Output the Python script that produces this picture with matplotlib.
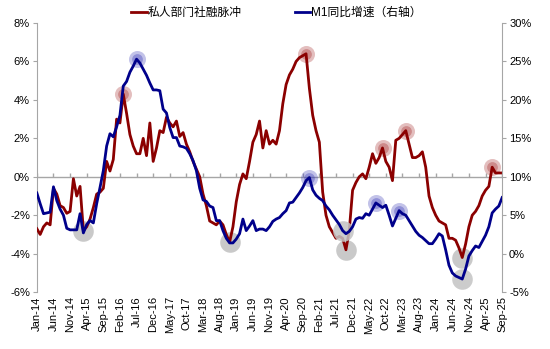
import matplotlib
matplotlib.use("Agg")
import matplotlib.pyplot as plt
from matplotlib.ticker import FuncFormatter

plt.rcParams["font.family"] = ["Liberation Sans", "Noto Sans CJK SC", "DejaVu Sans"]

# monthly observations, Jan-14 .. Sep-25 (index = months since Jan-14)
pulse = [
    -2.7, -3.0, -2.6, -2.4, -2.5, -0.6, -0.9, -1.5, -1.6, -1.9,
    -1.8, -0.1, -1.0, -0.5, -2.8, -2.6, -2.2, -1.6, -0.9, -0.8,
    -0.6, 0.8, 0.3, 0.9, 3.0, 2.8, 4.3, 3.3, 2.2, 1.6,
    1.2, 1.2, 2.0, 1.1, 2.8, 0.8, 1.5, 2.4, 2.3, 3.1,
    2.8, 2.6, 2.9, 2.1, 2.3, 1.7, 1.3, 0.8, 0.4, 0.0,
    -0.9, -1.5, -2.3, -2.4, -2.5, -2.3, -2.5, -3.0, -3.4, -2.6,
    -1.3, -0.4, 0.15, -0.1, 0.8, 1.8, 2.2, 2.9, 1.5, 2.4,
    1.7, 1.9, 1.7, 2.4, 3.8, 4.8, 5.3, 5.6, 6.0, 6.2,
    6.3, 6.4, 4.6, 3.2, 2.4, 1.8, -0.8, -2.0, -2.6, -2.9,
    -3.2, -3.1, -3.2, -3.8, -2.8, -0.7, -0.3, 0.0, 0.15, -0.1,
    0.5, 1.2, 0.7, 1.0, 1.5, 0.8, 0.5, -0.2, 1.9, 2.0,
    2.2, 2.4, 1.7, 1.0, 1.0, 1.1, 1.3, 0.5, -1.0, -1.6,
    -2.0, -2.3, -2.4, -2.5, -3.2, -3.2, -3.3, -3.7, -4.2, -3.5,
    -2.6, -2.0, -1.8, -1.5, -1.0, -0.7, -0.5, 0.5, 0.2, 0.2,
    0.2,
]
m1_yoy = [
    7.9, 6.5, 5.2, 5.3, 5.4, 8.7, 6.9, 5.8, 5.0, 3.3,
    3.1, 3.1, 3.1, 5.2, 2.7, 3.8, 4.3, 4.0, 6.5, 8.6,
    10.8, 14.0, 15.6, 15.2, 16.5, 18.0, 21.8, 22.4, 23.6, 24.4,
    25.3, 24.8, 24.0, 23.2, 22.2, 21.3, 21.3, 21.2, 18.8, 18.3,
    16.4, 15.1, 15.1, 14.0, 13.9, 13.7, 13.0, 12.1, 10.8, 8.5,
    7.0, 6.8, 6.2, 6.0, 4.3, 4.3, 3.0, 2.0, 1.4, 1.4,
    1.9, 2.6, 4.5, 3.0, 3.6, 4.3, 3.0, 3.2, 3.2, 3.0,
    3.5, 4.2, 4.5, 4.7, 5.2, 5.6, 6.6, 6.7, 7.3, 7.9,
    8.6, 9.5, 9.9, 8.3, 7.6, 7.2, 6.9, 6.2, 5.7, 5.0,
    4.4, 3.8, 3.0, 2.6, 2.9, 3.5, 4.5, 4.7, 4.6, 5.2,
    5.0, 5.8, 6.6, 6.3, 6.0, 6.3, 5.0, 3.6, 4.6, 5.6,
    5.2, 5.0, 4.3, 3.6, 2.9, 2.4, 2.1, 1.7, 1.3, 1.3,
    1.9, 2.6, 2.3, 0.5, -1.5, -2.5, -2.9, -3.1, -3.3, -2.0,
    -0.3, 0.4, 1.0, 0.8, 1.6, 2.4, 3.5, 5.3, 5.8, 6.2,
    7.3,
]
months = list(range(len(pulse)))

tick_labels = [
    "Jan-14", "Jun-14", "Nov-14", "Apr-15", "Sep-15", "Feb-16", "Jul-16",
    "Dec-16", "May-17", "Oct-17", "Mar-18", "Aug-18", "Jan-19", "Jun-19",
    "Nov-19", "Apr-20", "Sep-20", "Feb-21", "Jul-21", "Dec-21", "May-22",
    "Oct-22", "Mar-23", "Aug-23", "Jan-24", "Jun-24", "Nov-24", "Apr-25",
    "Sep-25",
]
tick_pos = list(range(0, len(pulse), 5))

# turning points marked with halos
pulse_peaks = [26, 81, 104, 111, 137]
pulse_troughs = [14, 58, 93, 128]
m1_peaks = [30, 82, 102, 109]
m1_troughs = [92, 128]

RED = "#8b0000"
BLUE = "#00008b"
GREY = "#a6a6a6"

fig = plt.figure(figsize=(5.5, 3.49), dpi=100)
ax = fig.add_axes([0.067, 0.163, 0.846, 0.771])
ax2 = ax.twinx()

ax.plot(months, pulse, color=RED, lw=2, zorder=3, label="私人部门社融脉冲")
ax2.plot(months, m1_yoy, color=BLUE, lw=2, zorder=3, label="M1同比增速（右轴）")


def halo(axis, idx, series, color):
    ys = [series[i] for i in idx]
    axis.scatter(idx, ys, s=150, color=color, alpha=0.3, lw=0, zorder=2)
    axis.scatter(idx, ys, s=60, color=color, alpha=0.35, lw=0, zorder=2)


halo(ax, pulse_peaks, pulse, "#a52a2a")
halo(ax2, m1_peaks, m1_yoy, "#3535b5")
ax.scatter(pulse_troughs, [pulse[i] for i in pulse_troughs], s=220,
           color="#c4c4c4", alpha=0.9, lw=0, zorder=2)
ax2.scatter(m1_troughs, [m1_yoy[i] for i in m1_troughs], s=220,
            color="#c4c4c4", alpha=0.85, lw=0, zorder=2)

# axis line at zero with small upward ticks
ax.axhline(0, color=GREY, lw=1, zorder=1)
ax.plot(tick_pos, [0] * len(tick_pos), ls="none", marker=2, ms=3,
        mew=1, color=GREY, zorder=1)

ax.set_xlim(0, len(pulse) - 1)
ax.set_ylim(-6, 8)
ax2.set_ylim(-5, 30)
ax.set_yticks(range(-6, 9, 2))
ax2.set_yticks(range(-5, 31, 5))
pct = FuncFormatter(lambda v, _: f"{v:.0f}%")
ax.yaxis.set_major_formatter(pct)
ax2.yaxis.set_major_formatter(pct)

ax.set_xticks(tick_pos)
ax.set_xticklabels(tick_labels, rotation=90, fontsize=8)
ax.tick_params(axis="x", length=0, pad=3)
ax.tick_params(axis="y", labelsize=8, length=3, color=GREY, pad=2)
ax2.tick_params(axis="y", labelsize=8, length=3, color=GREY, pad=2)

for a in (ax, ax2):
    for side in ("top", "bottom"):
        a.spines[side].set_visible(False)
    a.spines["left"].set_color(GREY)
    a.spines["right"].set_color(GREY)
ax.spines["right"].set_visible(False)
ax2.spines["left"].set_visible(False)

h1, l1 = ax.get_legend_handles_labels()
h2, l2 = ax2.get_legend_handles_labels()
fig.legend(h1 + h2, l1 + l2, loc="center", bbox_to_anchor=(0.503, 0.962),
           ncol=2, frameon=False, fontsize=8.5, handlelength=1.3,
           handletextpad=0.1, columnspacing=4.5)

fig.savefig("out.png", dpi=100)
